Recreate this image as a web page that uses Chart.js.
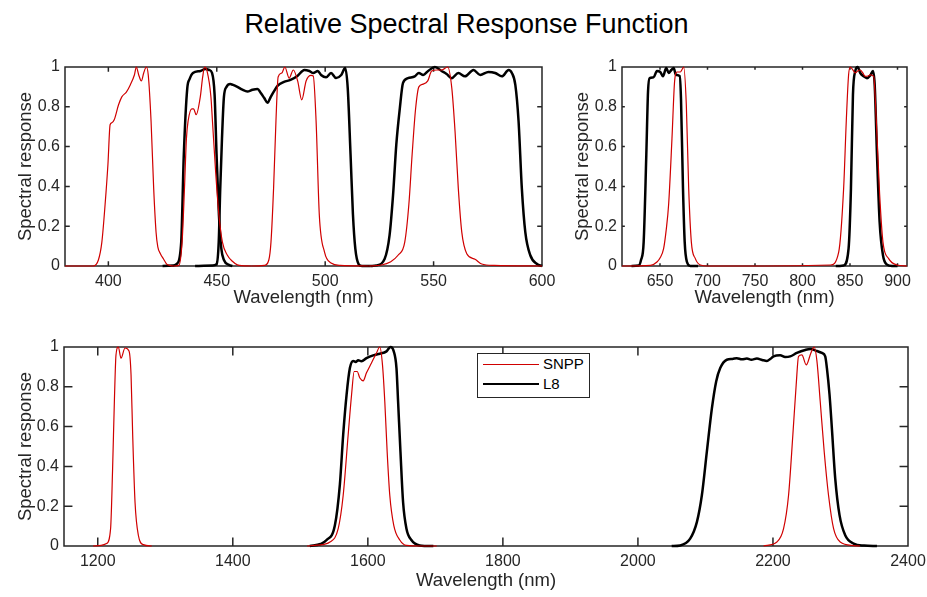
<!DOCTYPE html>
<html>
<head>
<meta charset="utf-8">
<script src="https://cdn.jsdelivr.net/npm/chart.js@4.4.0/dist/chart.umd.min.js"></script>
<style>
  body { margin: 0; width: 927px; height: 597px; overflow: hidden; background: #fff; position: relative;
         font-family: 'Liberation Sans', Arial, sans-serif; }
  canvas { position: absolute; }
  #title { position: absolute; left: 0; width: 933px; top: 9px; line-height: 30px; font-size: 27px;
           text-align: center; color: #000; }
  #legend { position: absolute; left: 477px; top: 353px; width: 113px; height: 45px; box-sizing: border-box;
            border: 1px solid #262626; background: #fff; color: #000; font-size: 15px; }
  #legend .sw { position: absolute; left: 5px; width: 56px; height: 0; }
  #legend .lb { position: absolute; left: 65px; line-height: 20px; }
</style>
</head>
<body>
<div id="title">Relative Spectral Response Function</div>
<canvas id="vis" width="560" height="320" style="left:0;top:0"></canvas>
<canvas id="nir" width="368" height="320" style="left:559px;top:0"></canvas>
<canvas id="swir" width="927" height="277" style="left:0;top:320px"></canvas>
<div id="legend">
  <div class="sw" style="top:10px;border-top:1.2px solid #d00000"></div><div class="lb" style="top:0px">SNPP</div>
  <div class="sw" style="top:29px;border-top:2.5px solid #000"></div><div class="lb" style="top:20px">L8</div>
</div>
<script>
// tick values
const yTicks = [0, 0.2, 0.4, 0.6, 0.8, 1];
const visTicks = [400, 450, 500, 550, 600];
const nirTicks = [650, 700, 750, 800, 850, 900];
const swirTicks = [1200, 1400, 1600, 1800, 2000, 2200, 2400];

// SNPP VIIRS bands, [wavelength nm, relative response]
const snppM1 = [[380,0],[393,0],[395.4,0.03],[397,0.12],[398.5,0.31],[399.8,0.51],[400.8,0.71],[401.6,0.72],[402.7,0.735],[404.7,0.81],[406.2,0.85],[408.3,0.874],[410.1,0.91],[412,0.96],[412.9,1.0],[414,0.96],[415.2,0.93],[416.3,0.97],[417.5,1.0],[418.4,0.96],[419.7,0.726],[420.9,0.39],[422,0.17],[422.8,0.096],[424,0.062],[425.5,0.034],[427.1,0.007],[430,0]];
const snppM2 = [[430,0],[432.5,0.003],[434,0.12],[435.1,0.39],[436,0.64],[436.8,0.73],[438.5,0.79],[439.3,0.79],[440.5,0.76],[442.4,0.85],[443.5,0.95],[444.4,1.0],[445.5,0.98],[447.3,0.85],[448,0.73],[449.5,0.47],[451,0.255],[452.6,0.12],[454.9,0.054],[457.2,0.024],[459.5,0.006],[466,0]];
const snppM3 = [[466,0],[472,0.003],[474,0.03],[475,0.12],[476.2,0.39],[477.3,0.73],[478.3,0.95],[480,0.97],[481.4,1.0],[483.4,0.944],[485.3,0.985],[487.3,0.93],[489.2,0.835],[491.2,0.93],[493.5,0.958],[494.5,0.955],[495.8,0.73],[497.3,0.255],[499.7,0.07],[502.7,0.015],[507,0.003],[520,0]];
const snppM4 = [[520,0],[526,0.005],[530,0.02],[533.6,0.054],[536.7,0.12],[538.6,0.31],[540.1,0.56],[541.7,0.79],[543.2,0.9],[545.2,0.914],[547.3,0.93],[549.1,0.98],[551.4,0.985],[553.7,0.985],[556.5,1.0],[558.4,0.894],[559.9,0.676],[561.4,0.39],[563,0.17],[565.3,0.062],[569.1,0.034],[572.2,0.01],[578,0.003],[600,0]];
const snppM5 = [[610,0],[640,0.003],[646.8,0.02],[650,0.04],[653.8,0.087],[656.5,0.18],[659.1,0.31],[662.6,0.64],[665.4,0.93],[667.9,0.975],[671.4,0.975],[673.5,0.99],[674.9,1.0],[677.7,0.81],[680.2,0.39],[683,0.12],[687.2,0.037],[692.5,0.005],[700,0],[760,0]];
const snppM7 = [[760,0],[829.3,0.005],[838.1,0.07],[843.3,0.39],[846.1,0.73],[848.5,0.96],[850.3,1.0],[853,0.985],[855.6,0.97],[858,0.98],[860.8,0.985],[863.5,0.97],[866.1,0.953],[869,0.955],[871.4,0.96],[874.9,0.953],[877.7,0.73],[881.2,0.36],[884.7,0.12],[890.7,0.037],[899.4,0.005],[910,0]];
const snppM8 = [[1193,0],[1205,0.003],[1213,0.012],[1219,0.087],[1222,0.39],[1224.6,0.726],[1227,0.96],[1230.5,1.0],[1234.4,0.944],[1240.4,0.995],[1246.3,0.98],[1249.3,0.86],[1251.7,0.56],[1255.2,0.22],[1260.1,0.054],[1267.5,0.007],[1280,0]];
const snppM10 = [[1510,0],[1525,0.004],[1543.8,0.02],[1556.1,0.087],[1563.5,0.255],[1570.9,0.56],[1575.9,0.76],[1579.8,0.877],[1584.2,0.877],[1588.2,0.844],[1593.1,0.83],[1598,0.87],[1605.4,0.92],[1612.8,0.97],[1617.7,1.0],[1621.7,0.91],[1625.1,0.726],[1628.6,0.474],[1632.5,0.255],[1638.4,0.104],[1647.3,0.03],[1657.2,0.003],[1680,0],[1702,0]];
const snppM11 = [[2186,0],[2205.8,0.02],[2215.7,0.087],[2223.1,0.255],[2229.5,0.56],[2234.4,0.81],[2237.9,0.953],[2242.8,0.96],[2249.3,0.91],[2256.2,0.97],[2261.1,1.0],[2265.1,0.93],[2270,0.726],[2275.9,0.474],[2282.3,0.255],[2289.8,0.087],[2299.6,0.02],[2319.4,0.002],[2329,0]];

// Landsat 8 OLI bands
const l8B1 = [[425,0],[430,0.003],[431.7,0.012],[433.6,0.12],[434.8,0.56],[436.4,0.894],[437.5,0.94],[439,0.97],[442.5,0.98],[444.7,0.99],[446.5,0.985],[447.8,0.97],[449,0.86],[449.9,0.56],[451,0.255],[452.1,0.087],[453.3,0.03],[455.7,0.005],[457.2,0]];
const l8B2 = [[440,0],[448,0.003],[449.9,0.01],[450.9,0.12],[451.6,0.39],[452.4,0.64],[453.3,0.85],[454.5,0.9],[456.2,0.914],[457.5,0.91],[459.5,0.9],[461.8,0.886],[464.1,0.877],[466.5,0.886],[468.8,0.89],[470.3,0.869],[471.9,0.844],[473.4,0.82],[474.9,0.85],[476.5,0.88],[478,0.905],[481,0.925],[484,0.935],[487.2,0.955],[490.4,0.985],[492.7,0.98],[494.5,0.97],[496.6,0.98],[498.1,0.96],[500.4,0.948],[502.7,0.97],[505,0.945],[507.4,0.96],[509.2,0.995],[510.4,0.894],[511.7,0.56],[512.8,0.26],[513.9,0.087],[515.4,0.01],[517,0],[521,0]];
const l8B3 = [[521,0],[523.6,0.003],[527.4,0.035],[529.7,0.155],[531.3,0.356],[532.8,0.61],[534.4,0.79],[535.9,0.92],[538.2,0.944],[541.3,0.953],[543.2,0.97],[545.2,0.96],[547.5,0.98],[550.6,1.0],[553.7,0.98],[556,0.965],[558.4,0.944],[561.4,0.97],[564.5,0.953],[568.4,0.985],[571.5,0.96],[575.3,0.975],[578.4,0.97],[581.5,0.953],[584.6,0.985],[586.1,0.97],[587.7,0.91],[589.2,0.726],[590.7,0.39],[592.3,0.17],[594.6,0.054],[597.7,0.01],[600,0]];
const l8B4 = [[620,0],[627.5,0.002],[630,0.03],[632.8,0.12],[635.6,0.56],[637.4,0.877],[639.1,0.944],[643.3,0.948],[646.8,0.98],[650.3,0.975],[653.1,0.953],[656.6,0.995],[659.1,0.97],[661.9,0.985],[664.4,0.995],[666.8,0.96],[670.7,0.955],[672.1,0.84],[674.2,0.39],[676,0.12],[678.4,0.02],[681.9,0],[690,0]];
const l8B5 = [[835,0],[843.3,0.003],[848.5,0.087],[851,0.39],[853.1,0.86],[855.6,0.98],[858,1.0],[860.8,0.97],[864.4,0.953],[867.9,0.944],[871.4,0.958],[874.2,0.98],[876,0.91],[878.4,0.56],[881.2,0.22],[884.7,0.054],[889,0.007],[894.2,0],[900,0]];
const l8B6 = [[1514,0],[1530,0.01],[1538.9,0.03],[1551.2,0.104],[1558.6,0.31],[1563.5,0.56],[1568.5,0.76],[1573.4,0.894],[1578.3,0.93],[1582,0.925],[1585.7,0.934],[1590.6,0.928],[1598,0.944],[1607.9,0.958],[1617.7,0.966],[1627.6,0.978],[1633.5,1.0],[1638.4,0.978],[1642.4,0.894],[1644.8,0.726],[1648.3,0.474],[1652.2,0.22],[1657.2,0.087],[1664.5,0.03],[1676.9,0.003],[1697,0]];
const l8B7 = [[2050,0],[2062.6,0.003],[2077.4,0.037],[2087.3,0.12],[2094.7,0.255],[2102.1,0.474],[2109.5,0.69],[2115.9,0.827],[2121.9,0.894],[2131.7,0.936],[2140,0.94],[2146.5,0.944],[2154,0.938],[2161.4,0.942],[2168,0.936],[2176.2,0.942],[2184,0.935],[2191,0.93],[2196,0.94],[2200.9,0.953],[2210.7,0.958],[2218,0.95],[2225.6,0.953],[2235.4,0.97],[2247.8,0.985],[2255.2,0.99],[2265.1,0.98],[2272.5,0.97],[2277.4,0.953],[2279.9,0.894],[2283.8,0.76],[2287.3,0.59],[2292.2,0.34],[2298.6,0.155],[2307,0.054],[2319.4,0.012],[2335,0.002],[2354,0]];

const SNPP_COLOR = '#d00000';
const AXIS_COLOR = '#262626';
Chart.defaults.font.family = "'Liberation Sans', Arial, sans-serif";
Chart.defaults.color = AXIS_COLOR;

// MATLAB-style box with inward ticks, drawn under the lines
const boxPlugin = {
  id: 'box',
  beforeDatasetsDraw(chart) {
    const {ctx, chartArea: a, scales: {x, y}} = chart;
    const len = 0.01 * Math.max(a.right - a.left, a.bottom - a.top);
    ctx.save();
    ctx.strokeStyle = AXIS_COLOR;
    ctx.lineWidth = 1.5;
    ctx.beginPath();
    x.ticks.forEach(t => {
      const px = x.getPixelForValue(t.value);
      ctx.moveTo(px, a.bottom); ctx.lineTo(px, a.bottom - len);
      ctx.moveTo(px, a.top); ctx.lineTo(px, a.top + len);
    });
    y.ticks.forEach(t => {
      const py = y.getPixelForValue(t.value);
      ctx.moveTo(a.left, py); ctx.lineTo(a.left + len, py);
      ctx.moveTo(a.right, py); ctx.lineTo(a.right - len, py);
    });
    ctx.rect(a.left, a.top, a.right - a.left, a.bottom - a.top);
    ctx.stroke();
    ctx.restore();
  }
};

function makeChart(id, xMin, xMax, xTicks, snppBands, l8Bands, lay) {
  const datasets = [];
  snppBands.forEach(b => datasets.push({
    data: b.map(p => ({x: p[0], y: p[1]})),
    borderColor: SNPP_COLOR, borderWidth: 1.2, order: 1, clip: false
  }));
  l8Bands.forEach(b => datasets.push({
    data: b.map(p => ({x: p[0], y: p[1]})),
    borderColor: '#000000', borderWidth: 2.5, order: 2, clip: false
  }));

  return new Chart(document.getElementById(id), {
    type: 'line',
    data: {datasets},
    options: {
      responsive: false,
      animation: false,
      devicePixelRatio: 1,
      layout: {padding: lay.padding},
      plugins: {legend: {display: false}, tooltip: {enabled: false}},
      elements: {point: {radius: 0}, line: {cubicInterpolationMode: 'monotone', fill: false}},
      scales: {
        x: {
          type: 'linear', min: xMin, max: xMax,
          grid: {display: false, drawTicks: false},
          border: {display: false},
          ticks: {padding: 6, font: {size: 16}, color: AXIS_COLOR, maxRotation: 0, autoSkip: false,
                  callback: v => String(v)},
          afterBuildTicks: s => { s.ticks = xTicks.map(v => ({value: v})); },
          afterFit: s => { s.height = lay.xHeight; s.paddingLeft = 0; s.paddingRight = 0; },
          title: {display: true, text: 'Wavelength (nm)', font: {size: 18.5}, color: AXIS_COLOR,
                  padding: {top: 0, bottom: lay.xTitlePad}}
        },
        y: {
          type: 'linear', min: 0, max: 1,
          grid: {display: false, drawTicks: false},
          border: {display: false},
          ticks: {padding: 5, font: {size: 16}, color: AXIS_COLOR, autoSkip: false,
                  callback: v => String(v)},
          afterBuildTicks: s => { s.ticks = yTicks.map(v => ({value: v})); },
          afterFit: s => { s.width = lay.yWidth; s.paddingTop = 0; s.paddingBottom = 0; },
          title: {display: true, text: 'Spectral response', font: {size: 18.5}, color: AXIS_COLOR,
                  padding: {top: lay.yTitlePad, bottom: 0}}
        }
      }
    },
    plugins: [boxPlugin]
  });
}

makeChart('vis', 380, 600, visTicks, [snppM1, snppM2, snppM3, snppM4], [l8B1, l8B2, l8B3],
  {padding: {top: 67, right: 18, bottom: 0, left: 0}, xHeight: 54, yWidth: 65, xTitlePad: 11, yTitlePad: 15});
makeChart('nir', 610, 910, nirTicks, [snppM5, snppM7], [l8B4, l8B5],
  {padding: {top: 67, right: 20, bottom: 0, left: 0}, xHeight: 54, yWidth: 63, xTitlePad: 11, yTitlePad: 13});
makeChart('swir', 1150, 2400, swirTicks, [snppM8, snppM10, snppM11], [l8B6, l8B7],
  {padding: {top: 27, right: 19, bottom: 0, left: 0}, xHeight: 51, yWidth: 64, xTitlePad: 5, yTitlePad: 15});
</script>
</body>
</html>
